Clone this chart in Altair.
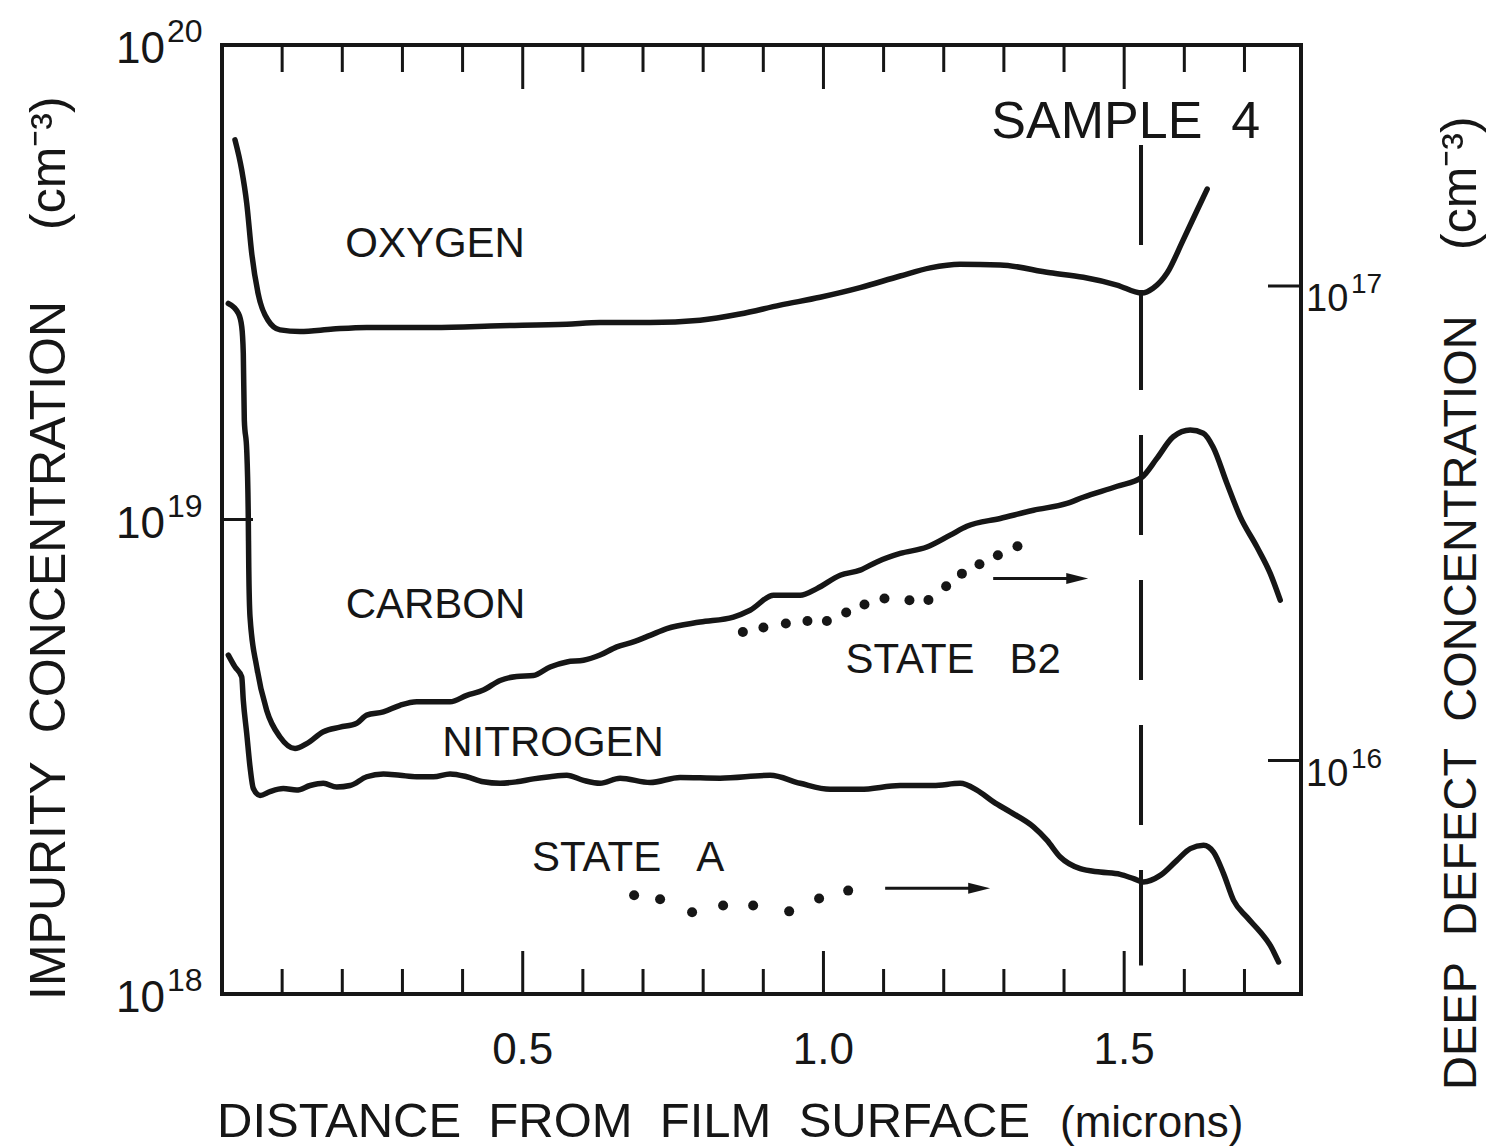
import altair as alt
import pandas as pd

# ---- SIMS impurity profiles: depth (microns) vs concentration (cm^-3) ----
oxygen_x = [0.0216, 0.0328, 0.0411, 0.0494, 0.0599, 0.0765, 0.0965, 0.1297, 0.1846,
            0.2406, 0.3509, 0.4623, 0.5733, 0.6286, 0.7118, 0.795, 0.861, 0.928,
            0.9945, 1.061, 1.1276, 1.1775, 1.2273, 1.2939, 1.377, 1.432, 1.488,
            1.5295, 1.548, 1.5716, 1.598, 1.6215, 1.638]
oxygen_c = [6.31e19, 5.45e19, 4.64e19, 3.64e19, 3.00e19, 2.63e19, 2.51e19, 2.49e19, 2.52e19,
            2.54e19, 2.54e19, 2.56e19, 2.58e19, 2.60e19, 2.60e19, 2.63e19, 2.71e19, 2.83e19,
            2.94e19, 3.08e19, 3.26e19, 3.39e19, 3.45e19, 3.44e19, 3.31e19, 3.24e19, 3.12e19,
            3.00e19, 3.07e19, 3.31e19, 3.88e19, 4.49e19, 4.97e19]

carbon_x = [0.0105, 0.0271, 0.0328, 0.0354, 0.0371, 0.0411, 0.0437, 0.0445, 0.0466, 0.0577,
            0.0743, 0.0965, 0.1214, 0.1409, 0.1685, 0.1962, 0.224, 0.2406, 0.2683, 0.296,
            0.3238, 0.3792, 0.407, 0.4346, 0.4623, 0.490, 0.5177, 0.5455, 0.5733, 0.601,
            0.6286, 0.6564, 0.684, 0.7118, 0.7396, 0.795, 0.8503, 0.878, 0.9169, 0.9613,
            0.989, 1.0278, 1.061, 1.0888, 1.1276, 1.172, 1.2107, 1.2385, 1.2939, 1.3493,
            1.4048, 1.4319, 1.4884, 1.5295, 1.5544, 1.5816, 1.6099, 1.6315, 1.648, 1.6709,
            1.693, 1.7208, 1.743, 1.7595]
carbon_c = [2.853e19, 2.72e19, 2.55e19, 2.24e19, 1.62e19, 1.40e19, 1.013e19, 7.94e18, 6.23e18, 4.89e18,
            3.96e18, 3.48e18, 3.29e18, 3.37e18, 3.57e18, 3.65e18, 3.72e18, 3.87e18, 3.93e18, 4.06e18,
            4.13e18, 4.13e18, 4.26e18, 4.37e18, 4.58e18, 4.67e18, 4.69e18, 4.89e18, 5.01e18, 5.05e18,
            5.18e18, 5.39e18, 5.52e18, 5.70e18, 5.89e18, 6.08e18, 6.23e18, 6.44e18, 6.92e18, 6.92e18,
            7.15e18, 7.63e18, 7.82e18, 8.14e18, 8.48e18, 8.75e18, 9.27e18, 9.68e18, 1.005e19, 1.046e19,
            1.081e19, 1.114e19, 1.175e19, 1.228e19, 1.345e19, 1.494e19, 1.543e19, 1.52e19, 1.42e19, 1.191e19,
            1.013e19, 8.75e18, 7.69e18, 6.76e18]

nitrogen_x = [0.0105, 0.0216, 0.0328, 0.0354, 0.0411, 0.0466, 0.0521, 0.0632, 0.0798, 0.1019,
              0.1242, 0.1464, 0.1685, 0.1908, 0.2129, 0.2406, 0.2683, 0.296, 0.3238, 0.3514,
              0.3792, 0.407, 0.4346, 0.4623, 0.490, 0.5177, 0.5455, 0.5733, 0.601, 0.6286,
              0.6619, 0.7118, 0.7617, 0.8282, 0.9114, 0.9613, 1.0111, 1.061, 1.1276, 1.1825,
              1.2273, 1.2551, 1.2827, 1.3105, 1.3492, 1.3715, 1.3937, 1.4269, 1.4602, 1.4934,
              1.5156, 1.5322, 1.56, 1.5877, 1.6099, 1.632, 1.6486, 1.6652, 1.6819, 1.7041,
              1.7263, 1.7429, 1.7567]
nitrogen_c = [5.18e18, 4.89e18, 4.66e18, 4.16e18, 3.54e18, 3.01e18, 2.71e18, 2.62e18, 2.67e18, 2.71e18,
              2.69e18, 2.75e18, 2.78e18, 2.73e18, 2.75e18, 2.87e18, 2.91e18, 2.89e18, 2.87e18, 2.87e18,
              2.91e18, 2.87e18, 2.80e18, 2.78e18, 2.80e18, 2.84e18, 2.87e18, 2.89e18, 2.82e18, 2.78e18,
              2.85e18, 2.79e18, 2.86e18, 2.85e18, 2.89e18, 2.78e18, 2.70e18, 2.70e18, 2.75e18, 2.75e18,
              2.78e18, 2.69e18, 2.54e18, 2.42e18, 2.25e18, 2.11e18, 1.944e18, 1.837e18, 1.807e18, 1.787e18,
              1.750e18, 1.722e18, 1.778e18, 1.913e18, 2.025e18, 2.057e18, 1.991e18, 1.793e18, 1.575e18, 1.452e18,
              1.351e18, 1.266e18, 1.168e18]

# ---- DLTS deep-defect densities (cm^-3), read on the right-hand axis ----
state_a_x = [0.6852, 0.7284, 0.7816, 0.8332, 0.8831, 0.943, 0.9928, 1.0411]
state_a_n = [5.20e15, 5.10e15, 4.79e15, 4.95e15, 4.95e15, 4.81e15, 5.12e15, 5.32e15]

state_b2_x = [0.866, 0.9002, 0.9375, 0.9734, 1.0057, 1.0378, 1.0682, 1.1015, 1.143, 1.1746,
              1.204, 1.2302, 1.2594, 1.29, 1.3226]
state_b2_n = [1.866e16, 1.907e16, 1.944e16, 1.969e16, 1.969e16, 2.051e16, 2.132e16, 2.195e16, 2.177e16, 2.18e16,
              2.33e16, 2.477e16, 2.593e16, 2.709e16, 2.83e16]

# arrows pointing each defect series to the right-hand axis
arrow_x1 = [1.1026, 1.2822]
arrow_x2 = [1.2589, 1.4219]
arrow_n = [5.38e15, 2.42e16]

# film / substrate interface
interface_x = 1.528
interface_top = 10 ** 19.789
interface_bottom = 10 ** 18.060

# curve labels
label_text = ["OXYGEN", "CARBON", "NITROGEN", "STATE\u00a0\u00a0\u00a0B2", "STATE\u00a0\u00a0\u00a0A"]
label_x = [0.3543, 0.3550, 0.5505, 1.2157, 0.6752]
label_c = [3.57e19, 6.20e18, 3.18e18, 4.74e18, 1.82e18]

# axis ticks
x_minor = [0.1, 0.2, 0.3, 0.4, 0.6, 0.7, 0.8, 0.9, 1.1, 1.2, 1.3, 1.4, 1.6, 1.7]
x_major = [0.5, 1.0, 1.5]
x_major_labels = ["0.5", "1.0", "1.5"]
left_exps = [18, 19, 20]
right_exps = [16, 17]

# right axis sits this many decades below the left one
DEFECT_SHIFT = 10 ** 2.492

W, H = 1079, 949
FONT = "Liberation Sans"
INK = "#161616"

x_scale = alt.Scale(domain=[0, 1.794], nice=False, zero=False)
y_scale = alt.Scale(type="log", domain=[1e18, 1e20], nice=False)
X = alt.X("x:Q", scale=x_scale, axis=None)
Y = alt.Y("c:Q", scale=y_scale, axis=None)

profiles = pd.concat([
    pd.DataFrame({"x": oxygen_x, "c": oxygen_c, "series": "oxygen"}),
    pd.DataFrame({"x": carbon_x, "c": carbon_c, "series": "carbon"}),
    pd.DataFrame({"x": nitrogen_x, "c": nitrogen_c, "series": "nitrogen"}),
])
defects = pd.concat([
    pd.DataFrame({"x": state_a_x, "n": state_a_n, "state": "A"}),
    pd.DataFrame({"x": state_b2_x, "n": state_b2_n, "state": "B2"}),
])
arrows = pd.DataFrame({"x": arrow_x1, "x2": arrow_x2, "n": arrow_n})
to_left = f"datum.n * {DEFECT_SHIFT}"

curves = alt.Chart(profiles).mark_line(
    strokeWidth=5.5, color=INK, strokeCap="round", strokeJoin="round", interpolate="monotone"
).encode(x=X, y=Y, detail="series:N")

dots = alt.Chart(defects).transform_calculate(c=to_left).mark_circle(
    size=100, color=INK, opacity=1
).encode(x=X, y=Y)

arrow_shafts = alt.Chart(arrows).transform_calculate(c=to_left).mark_rule(
    strokeWidth=3, color=INK
).encode(x=X, x2="x2:Q", y=Y)

arrow_heads = alt.Chart(arrows).transform_calculate(c=to_left).mark_point(
    shape="M -1 -0.5 L 1 0 L -1 0.5 Z", size=480, filled=True, color=INK, opacity=1
).encode(x=alt.X("x2:Q", scale=x_scale, axis=None), y=Y)

interface = alt.Chart(pd.DataFrame({"x": [interface_x], "c": [interface_top], "c2": [interface_bottom]})).mark_rule(
    strokeWidth=4, color=INK, strokeDash=[100, 45]
).encode(x=X, y=Y, y2="c2:Q")

labels = alt.Chart(pd.DataFrame({"x": label_x, "c": label_c, "t": label_text})).mark_text(
    font=FONT, fontSize=42, color=INK, align="center", baseline="alphabetic"
).encode(x=X, y=Y, text="t:N")

sample = alt.Chart(pd.DataFrame({"x": [1.5026], "c": [6.37e19], "t": ["SAMPLE\u00a0\u00a04"]})).mark_text(
    font=FONT, fontSize=52, color=INK, align="center", baseline="alphabetic"
).encode(x=X, y=Y, text="t:N")

# inward ticks along top and bottom edges
minor_df = pd.DataFrame({"x": x_minor})
major_df = pd.DataFrame({"x": x_major, "t": x_major_labels})
tick_style = dict(strokeWidth=3, color=INK)
top_minor = alt.Chart(minor_df).mark_rule(**tick_style).encode(x=X, y=alt.value(0), y2=alt.value(27))
top_major = alt.Chart(major_df).mark_rule(**tick_style).encode(x=X, y=alt.value(0), y2=alt.value(44))
bot_minor = alt.Chart(minor_df).mark_rule(**tick_style).encode(x=X, y=alt.value(H), y2=alt.value(H - 25))
bot_major = alt.Chart(major_df).mark_rule(**tick_style).encode(x=X, y=alt.value(H), y2=alt.value(H - 43))
x_labels = alt.Chart(major_df).mark_text(
    font=FONT, fontSize=44, color=INK, align="center", baseline="alphabetic"
).encode(x=X, y=alt.value(H + 70), text="t:N")

# left axis: inward tick at 10^19 and "10^n" labels
left_df = pd.DataFrame({"e": left_exps})
left_df["c"] = 10.0 ** left_df["e"]
left_df["s"] = left_df["e"].astype(str)
left_tick = alt.Chart(left_df[left_df.e == 19]).mark_rule(**tick_style).encode(
    y=Y, x=alt.value(0), x2=alt.value(31))
left_base = alt.Chart(left_df).mark_text(
    font=FONT, fontSize=44, color=INK, align="right", baseline="alphabetic", dy=18
).encode(y=Y, x=alt.value(-57), text=alt.value("10"))
left_exp = alt.Chart(left_df).mark_text(
    font=FONT, fontSize=32, color=INK, align="left", baseline="alphabetic", dy=-3
).encode(y=Y, x=alt.value(-55), text="s:N")

# right axis: deep-defect scale
right_df = pd.DataFrame({"e": right_exps})
right_df["n"] = 10.0 ** right_df["e"]
right_df["s"] = right_df["e"].astype(str)
right_tick = alt.Chart(right_df).transform_calculate(c=to_left).mark_rule(**tick_style).encode(
    y=Y, x=alt.value(W - 33), x2=alt.value(W))
right_base = alt.Chart(right_df).transform_calculate(c=to_left).mark_text(
    font=FONT, fontSize=38, color=INK, align="left", baseline="alphabetic", dy=25
).encode(y=Y, x=alt.value(1306 - 222), text=alt.value("10"))
right_exp = alt.Chart(right_df).transform_calculate(c=to_left).mark_text(
    font=FONT, fontSize=28, color=INK, align="left", baseline="alphabetic", dy=7
).encode(y=Y, x=alt.value(1351 - 222), text="s:N")

# axis titles
one = pd.DataFrame({"k": [0]})


def title(text, x, y, size, angle=0):
    return alt.Chart(one).mark_text(
        text=text, font=FONT, fontSize=size, color=INK, align="left",
        baseline="alphabetic", angle=angle
    ).encode(x=alt.value(x), y=alt.value(y))


titles = [
    title("IMPURITY\u00a0\u00a0CONCENTRATION", -157, 955, 50, 270),
    title("(cm\u207b\u00b3)", -157, 185, 50, 270),
    title("DEEP\u00a0\u00a0DEFECT\u00a0\u00a0CONCENTRATION", 1254, 1045, 47, 270),
    title("(cm\u207b\u00b3)", 1254, 205, 50, 270),
    title("DISTANCE\u00a0\u00a0FROM\u00a0\u00a0FILM\u00a0\u00a0SURFACE", -5, 1092, 49),
    title("(microns)", 838, 1092, 44),
]

chart = alt.layer(
    curves, dots, arrow_shafts, arrow_heads, interface, labels, sample,
    top_minor, top_major, bot_minor, bot_major, x_labels,
    left_tick, left_base, left_exp, right_tick, right_base, right_exp,
    *titles,
).properties(
    width=W, height=H,
    padding={"left": 222, "top": 45, "right": 186, "bottom": 154},
    autosize=alt.AutoSizeParams(type="none"),
    background="white",
).configure_view(stroke=INK, strokeWidth=4)

chart.save("out.html", embed_options={"renderer": "svg", "actions": False})
